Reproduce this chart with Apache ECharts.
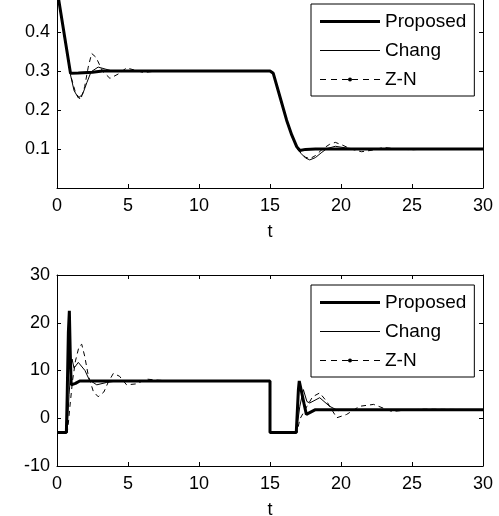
<!DOCTYPE html>
<html>
<head>
<meta charset="utf-8">
<script src="https://cdn.jsdelivr.net/npm/echarts@6/dist/echarts.min.js"></script>
<style>
  html, body { margin: 0; padding: 0; background: #fff; }
  #chart { width: 499px; height: 516px; }
</style>
</head>
<body>
<div id="chart"></div>
<script>
// top plot: output response
var tRespProposed = [0, 0.95, 1.5, 2.5, 3.2, 15.0, 15.23, 15.7, 16.17, 16.53, 16.88, 17.1, 17.5, 18.2, 30];
var yRespProposed = [0.51, 0.294, 0.295, 0.297, 0.3, 0.3, 0.294, 0.234, 0.174, 0.136, 0.106, 0.096, 0.099, 0.1, 0.1];

var tRespChang = [0, 0.95, 1.2, 1.5, 1.8, 2.1, 2.4, 2.9, 3.4, 3.9, 5, 15.0, 15.23, 15.7, 16.17, 16.53, 16.88, 17.2, 17.5, 17.8, 18.2, 18.6, 19.0, 19.6, 20.3, 21.2, 30];
var yRespChang = [0.51, 0.29, 0.25, 0.231, 0.24, 0.27, 0.298, 0.31, 0.305, 0.3, 0.3, 0.3, 0.294, 0.234, 0.174, 0.136, 0.104, 0.088, 0.077, 0.072, 0.078, 0.09, 0.101, 0.107, 0.103, 0.099, 0.1];

var tRespZN = [0, 0.95, 1.3, 1.66, 1.95, 2.2, 2.44, 2.75, 3.2, 3.73, 4.3, 4.9, 5.5, 6.1, 7, 15.0, 15.23, 15.7, 16.17, 16.53, 16.88, 17.2, 17.5, 17.8, 18.2, 18.7, 19.2, 19.6, 20.1, 20.7, 21.45, 22.2, 23, 24, 25, 26, 30];
var yRespZN = [0.51, 0.29, 0.245, 0.226, 0.26, 0.31, 0.345, 0.335, 0.3, 0.281, 0.292, 0.308, 0.302, 0.296, 0.3, 0.3, 0.294, 0.234, 0.174, 0.136, 0.104, 0.088, 0.079, 0.075, 0.083, 0.1, 0.112, 0.117, 0.11, 0.1, 0.093, 0.097, 0.104, 0.1, 0.098, 0.1, 0.1];

// bottom plot: control signal
var tCtrlProposed = [0, 0.66, 0.72, 0.8, 0.87, 0.93, 1.0, 1.1, 1.3, 1.6, 15.0, 15.0, 16.85, 17.0, 17.06, 17.2, 17.4, 17.56, 17.7, 18.2, 30];
var yCtrlProposed = [-3, -3, 5, 18, 22.5, 14, 7, 6.6, 7.3, 7.8, 7.8, -3, -3, 6, 7.8, 7.5, 3, 0.8, 1.2, 1.8, 1.8];

var tCtrlChang = [0, 0.7, 0.85, 1.0, 1.06, 1.2, 1.5, 1.97, 2.28, 2.8, 3.5, 4.2, 15.0, 15.0, 16.85, 17.1, 17.35, 17.6, 17.8, 18.5, 19.2, 19.8, 20.5, 30];
var yCtrlChang = [-3, -3, 5, 11, 12.4, 10.5, 11.7, 10, 8, 7, 7.5, 7.8, 7.8, -3, -3, 2.5, 6, 3.5, 3.2, 4.3, 2.5, 1.6, 1.8, 1.8];

var tCtrlZN = [0, 0.72, 0.8, 0.91, 1.1, 1.3, 1.55, 1.74, 1.95, 2.2, 2.56, 2.9, 3.3, 3.6, 3.97, 4.4, 4.9, 5.6, 6.3, 7, 8, 15.0, 15.0, 16.9, 17.1, 17.6, 18.0, 18.5, 19.0, 19.7, 20.4, 21.3, 22.3, 23.6, 24.5, 25.8, 30];
var yCtrlZN = [-3, -3, -1, 2.5, 8, 12, 15, 15.5, 13, 9, 5.6, 4.5, 5.5, 7.5, 9.4, 8.8, 7, 7.2, 8.2, 8, 7.8, 7.8, -3, -3, -0.2, 2.5, 4.5, 5.3, 3.5, 0.1, 0.8, 2.5, 2.9, 1.4, 1.7, 1.9, 1.8];

var seriesNames = ['Proposed', 'Chang', 'Z-N'];

function pairs(t, y) {
  var out = [];
  for (var i = 0; i < t.length; i++) out.push([t[i], y[i]]);
  return out;
}

var font = 'Liberation Sans';
var black = '#000';

// legend samples, 60x18 box (corner points only fix the box)
var box = 'M0,0 L0,0 M60,18 L60,18 ';
var iconThick = 'path://' + box + 'M0,7.5 L60,7.5 L60,10.5 L0,10.5 Z';
var iconThin = 'path://' + box + 'M0,8.5 L60,8.5 L60,9.5 L0,9.5 Z';
var iconDash = 'path://' + box +
  'M0,8.5 L6,8.5 L6,9.5 L0,9.5 Z M11,8.5 L17,8.5 L17,9.5 L11,9.5 Z ' +
  'M22,8.5 L28,8.5 L28,9.5 L22,9.5 Z M28,9 A2,2 0 1,0 32,9 A2,2 0 1,0 28,9 Z ' +
  'M32,8.5 L38,8.5 L38,9.5 L32,9.5 Z M43,8.5 L49,8.5 L49,9.5 L43,9.5 Z M54,8.5 L60,8.5 L60,9.5 L54,9.5 Z';
var icons = [iconThick, iconThin, iconDash];

var chart = echarts.init(document.getElementById('chart'));

function xAx(grid, pos, showLabel) {
  return {
    type: 'value', gridIndex: grid, position: pos, min: 0, max: 30, interval: 5,
    name: showLabel ? 't' : '', nameLocation: 'middle', nameGap: 35,
    nameTextStyle: { color: black, fontSize: 18, fontFamily: font },
    axisLine: { onZero: false, lineStyle: { color: black, width: 1 } },
    axisTick: { show: true, inside: true, length: 4, lineStyle: { color: black } },
    axisLabel: { show: showLabel, color: black, fontSize: 18, fontFamily: font, margin: 9 },
    splitLine: { show: false }
  };
}

function yAx(grid, pos, min, max, step, showLabel, fmt) {
  return {
    type: 'value', gridIndex: grid, position: pos, min: min, max: max, interval: step,
    axisLine: { onZero: false, lineStyle: { color: black, width: 1 } },
    axisTick: { show: true, inside: true, length: 4, lineStyle: { color: black } },
    axisLabel: { show: showLabel, color: black, fontSize: 18, fontFamily: font, margin: 7, formatter: fmt },
    splitLine: { show: false }
  };
}

function topFmt(v) {
  if (v <= 0 || v >= 0.5) return '';
  return v.toFixed(1);
}

function lineSeries(name, data, xi, yi, width, dashed) {
  return {
    name: name, type: 'line', xAxisIndex: xi, yAxisIndex: yi, data: data,
    symbol: 'none',
    itemStyle: { color: black },
    lineStyle: { color: black, width: width, type: dashed ? [5, 4] : 'solid' },
    z: width > 2 ? 3 : 2
  };
}

function legendAt(top) {
  return {
    orient: 'vertical', left: 311, top: top, itemWidth: 60, itemHeight: 18, itemGap: 10,
    padding: [8, 8, 7, 9], backgroundColor: '#fff', borderColor: black, borderWidth: 1,
    itemStyle: { color: black, borderWidth: 0 },
    textStyle: { color: black, fontSize: 19, fontFamily: font },
    data: seriesNames.map(function (n, i) { return { name: n, icon: icons[i] }; })
  };
}

var option = {
  animation: false,
  backgroundColor: '#fff',
  grid: [
    { left: 57, right: 16, top: -7, height: 195, outerBoundsMode: 'none' },
    { left: 57, right: 16, top: 275, height: 191, outerBoundsMode: 'none' }
  ],
  legend: [legendAt(4), legendAt(285)],
  xAxis: [
    xAx(0, 'bottom', true),
    xAx(1, 'bottom', true),
    xAx(0, 'top', false),
    xAx(1, 'top', false)
  ],
  yAxis: [
    yAx(0, 'left', 0, 0.5, 0.1, true, topFmt),
    yAx(1, 'left', -10, 30, 10, true),
    yAx(0, 'right', 0, 0.5, 0.1, false),
    yAx(1, 'right', -10, 30, 10, false)
  ],
  series: [
    lineSeries('Z-N', pairs(tRespZN, yRespZN), 0, 0, 1, true),
    lineSeries('Chang', pairs(tRespChang, yRespChang), 0, 0, 1, false),
    lineSeries('Proposed', pairs(tRespProposed, yRespProposed), 0, 0, 3, false),
    lineSeries('Z-N', pairs(tCtrlZN, yCtrlZN), 1, 1, 1, true),
    lineSeries('Chang', pairs(tCtrlChang, yCtrlChang), 1, 1, 1, false),
    lineSeries('Proposed', pairs(tCtrlProposed, yCtrlProposed), 1, 1, 3, false)
  ]
};

chart.setOption(option);
</script>
</body>
</html>
